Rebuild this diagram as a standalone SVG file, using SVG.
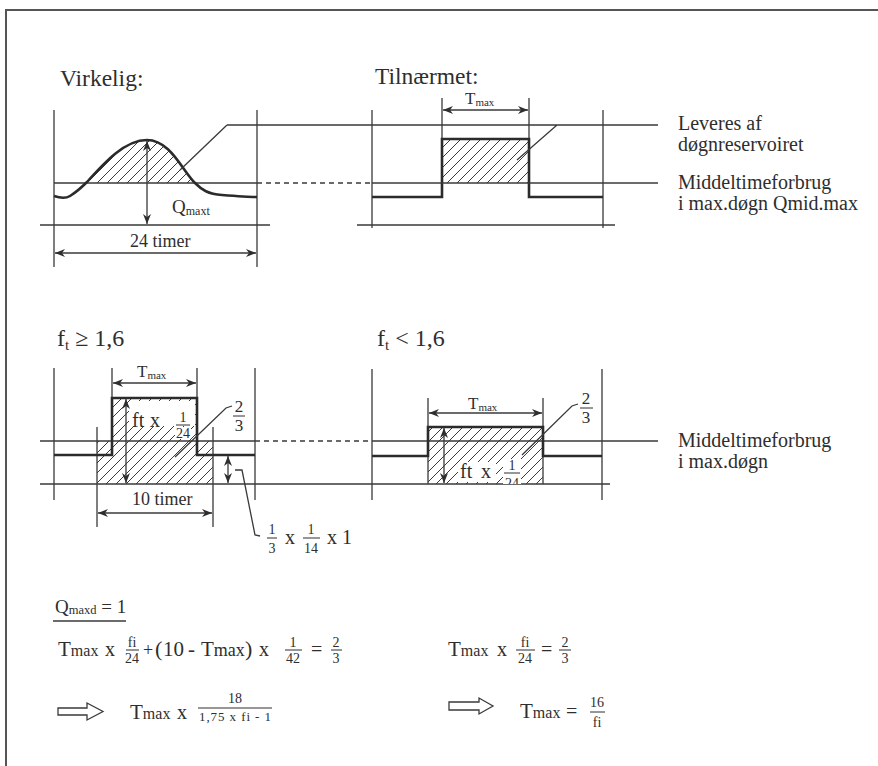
<svg xmlns="http://www.w3.org/2000/svg" width="878" height="766" viewBox="0 0 878 766">
<defs>
<style>
.ln{stroke:#3a3a3a;stroke-width:1.3;fill:none}
.th{stroke:#2b2b2b;stroke-width:2.6;fill:none}
.ds{stroke:#3a3a3a;stroke-width:1.3;fill:none;stroke-dasharray:5 4}
.dim{stroke:#3a3a3a;stroke-width:1.3;fill:none;marker-start:url(#ah);marker-end:url(#ah)}
.bar{stroke:#2e2e2e;stroke-width:1;fill:none}
text{font-family:"Liberation Serif","Times New Roman",serif;fill:#2e2e2e}
.h{font-size:23.5px}
.lab{font-size:20px}
.m{font-size:18px}
.fr{font-size:14px;text-anchor:middle}
.f3{font-size:17px;text-anchor:middle}
.hb{fill:url(#hatch)}
.wb{fill:#fff}
</style>
<marker id="ah" viewBox="0 0 10 8" refX="10" refY="4" markerWidth="10" markerHeight="8" markerUnits="userSpaceOnUse" orient="auto-start-reverse">
<path d="M0,0 L10,4 L0,8 L3,4 z" fill="#2e2e2e"/>
</marker>
<pattern id="hatch" width="10" height="10" patternUnits="userSpaceOnUse">
<path d="M-1,1 l2,-2 M0,10 l10,-10 M9,11 l2,-2" stroke="#3a3a3a" stroke-width="1"/>
</pattern>
<clipPath id="cl24"><rect x="490" y="450" width="40" height="34"/></clipPath>
</defs>
<rect width="878" height="766" fill="#fff"/>
<path d="M6,766 V10 H878" stroke="#555" stroke-width="2" fill="none"/>

<g id="virkelig">
<text x="60" y="86" class="h">Virkelig:</text>
<path class="ln" d="M54,110 V267 M257,110 V267 M40,225 H270 M54,183 H257"/>
<path class="hb" d="M87,183 C105,162 125,140 147,140 C170,140 182,170 195,183 Z"/>
<path class="th" stroke-width="2.2" d="M54,196 C60,198 65,199 70,196 C78,191 82,187 87,182 C105,162 125,140 147,140 C170,140 182,170 195,183 C202,190 208,194 222,195 C235,196 250,197 257,197"/>
<text x="172" y="213" font-size="19">Q<tspan font-size="12" dy="2">maxt</tspan></text>
<text x="130" y="247" class="m">24 timer</text>
</g>

<g id="tilnaermet">
<text x="375" y="84" class="h">Tilnærmet:</text>
<path class="ln" d="M372,110 V228 M603,110 V228 M357,225 H615 M442,98 V139 M529,98 V139"/>
<rect class="hb" x="442" y="139" width="87" height="44"/>
<path class="th" d="M372,197 H442 V139 H529 V197 H603"/>
<text x="465" y="104" font-size="17">T<tspan font-size="11" dy="2">max</tspan></text>
</g>

<g id="top-labels">
<text x="678" y="130" class="lab">Leveres af</text>
<text x="678" y="151" class="lab">døgnreservoiret</text>
<text x="678" y="189" class="lab">Middeltimeforbrug</text>
<text x="678" y="210" class="lab">i max.døgn Qmid.max</text>
</g>

<g id="ft-ge-16">
<text x="57" y="346" font-size="24">f<tspan font-size="15" dy="4">t</tspan><tspan dy="-4"> ≥ 1,6</tspan></text>
<rect class="hb" x="112" y="398" width="85" height="43"/>
<rect class="hb" x="97" y="441" width="116" height="43"/>
<path class="ln" d="M54,368 V500 M255,368 V500 M97,427 V527 M213,427 V527 M112,368 V398 M197,368 V398 M40,441 H255 M40,484 H610"/>
<path class="th" d="M54,455 H112 V398 H197 V455 H255"/>
<rect class="wb" x="129" y="401" width="66" height="25"/>
<rect class="wb" x="175" y="427" width="16" height="12"/>
<text x="137" y="377" font-size="17">T<tspan font-size="11" dy="2">max</tspan></text>
<text x="132" y="427" font-size="20">ft</text>
<text x="150" y="427" font-size="20">x</text>
<text x="183" y="422" class="fr">1</text>
<path class="bar" d="M176,425 H190"/>
<text x="183" y="438" class="fr">24</text>
<text x="239" y="412" class="f3">2</text>
<path class="bar" d="M233,416 H245"/>
<text x="239" y="431" class="f3">3</text>
<text x="132" y="505" class="m">10 timer</text>
<text x="272" y="534" class="fr">1</text>
<path class="bar" d="M267,538 H277"/>
<text x="272" y="553" class="fr">3</text>
<text x="285" y="544" font-size="20">x</text>
<text x="311" y="534" class="fr">1</text>
<path class="bar" d="M303,538 H320"/>
<text x="311" y="553" class="fr">14</text>
<text x="327" y="544" font-size="20">x 1</text>
</g>

<g id="ft-lt-16">
<text x="377" y="346" font-size="24">f<tspan font-size="15" dy="4">t</tspan><tspan dy="-4"> &lt; 1,6</tspan></text>
<rect class="hb" x="428" y="427" width="115" height="57"/>
<path class="ln" d="M372,369 V500 M602,369 V500 M428,398 V484 M543,398 V484 M372,441 H658"/>
<path class="th" d="M372,456 H428 V427 H543 V456 H602"/>
<rect class="wb" x="458" y="462" width="38" height="20"/>
<rect class="wb" x="503" y="459" width="18" height="25"/>
<text x="468" y="409" font-size="17">T<tspan font-size="11" dy="2">max</tspan></text>
<text x="460" y="478" font-size="20">ft</text>
<text x="481" y="478" font-size="20">x</text>
<text x="512" y="470" class="fr">1</text>
<path class="bar" d="M504,473 H520"/>
<text x="512" y="488" class="fr" clip-path="url(#cl24)">24</text>
<text x="586" y="404" class="f3">2</text>
<path class="bar" d="M580,408 H593"/>
<text x="586" y="423" class="f3">3</text>
<text x="678" y="447" class="lab">Middeltimeforbrug</text>
<text x="678" y="468" class="lab">i max.døgn</text>
</g>

<g id="connectors">
<path class="ln" d="M227,125 H658 M227,125 L180,170 M557,125 L517,160"/>
<path class="ds" d="M257,183 H372 M255,441 H372"/>
<path class="ln" d="M372,183 H658"/>
<path class="dim" d="M147,141 V224"/>
<path class="dim" d="M55,253 H256"/>
<path class="dim" d="M443,110 H528"/>
<path class="dim" d="M113,383 H196"/>
<path class="dim" d="M126,399 V483"/>
<path class="dim" d="M98,513 H212"/>
<path class="dim" d="M228,456 V483"/>
<path class="dim" d="M429,413 H542"/>
<path class="dim" d="M444,428 V483"/>
<path class="ln" d="M232,406 L226,408 L175,457"/>
<path class="ln" d="M235,470 H242 L255,535 L260,536"/>
<path class="ln" d="M578,404 L572,406 L522,455"/>
</g>

<g id="formulas">
<text x="55" y="613" font-size="19">Q<tspan font-size="12.5" dy="1">maxd</tspan><tspan dy="-1"> = 1</tspan></text>
<path class="ln" d="M53,621 H126"/>

<text x="58" y="656" font-size="21">T<tspan font-size="16">max</tspan></text>
<text x="105" y="656" font-size="20">x</text>
<text x="132" y="647" class="fr">fi</text>
<path class="bar" d="M126,650 H139"/>
<text x="132" y="663" class="fr">24</text>
<text x="143" y="656" font-size="18">+</text>
<text x="155" y="656" font-size="22">(</text>
<text x="163" y="656" font-size="21">10</text>
<text x="188" y="656" font-size="21">-</text>
<text x="201" y="656" font-size="21">T<tspan font-size="18">max</tspan></text>
<text x="245" y="656" font-size="22">)</text>
<text x="259" y="656" font-size="20">x</text>
<text x="293" y="647" class="fr">1</text>
<path class="bar" d="M285,650 H302"/>
<text x="293" y="663" class="fr">42</text>
<text x="311" y="656" font-size="20">=</text>
<text x="336" y="647" class="fr">2</text>
<path class="bar" d="M331,650 H342"/>
<text x="336" y="663" class="fr">3</text>

<text x="448" y="656" font-size="21">T<tspan font-size="16">max</tspan></text>
<text x="497" y="656" font-size="20">x</text>
<text x="525" y="647" class="fr">fi</text>
<path class="bar" d="M516,650 H535"/>
<text x="525" y="663" class="fr">24</text>
<text x="541" y="656" font-size="20">=</text>
<text x="565" y="647" class="fr">2</text>
<path class="bar" d="M559,650 H571"/>
<text x="565" y="663" class="fr">3</text>

<polygon class="ln" points="58,708 87,708 87,703 103,711.5 87,720 87,715 58,715"/>
<text x="130" y="719" font-size="21">T<tspan font-size="16">max</tspan></text>
<text x="177" y="719" font-size="20">x</text>
<text x="235" y="703" class="fr">18</text>
<path class="bar" d="M198,708 H272"/>
<text x="235" y="721" font-size="13" text-anchor="middle" textLength="72">1,75 x fi - 1</text>

<polygon class="ln" points="449,702 479,702 479,698 493,706 479,714 479,710 449,710"/>
<text x="520" y="718" font-size="21">T<tspan font-size="16">max</tspan></text>
<text x="566" y="718" font-size="20">=</text>
<text x="597" y="707" class="fr">16</text>
<path class="bar" d="M590,712 H605"/>
<text x="597" y="727" class="fr">fi</text>
</g>
</svg>
